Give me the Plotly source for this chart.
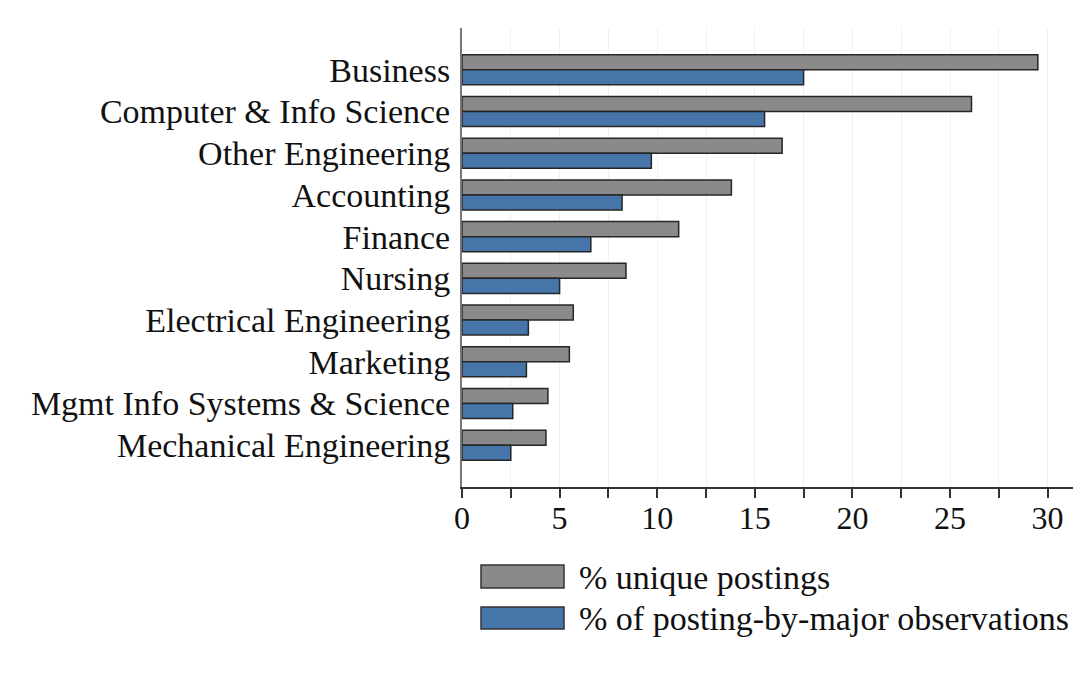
import plotly.graph_objects as go

categories = ["Business", "Computer & Info Science", "Other Engineering", "Accounting",
              "Finance", "Nursing", "Electrical Engineering", "Marketing",
              "Mgmt Info Systems & Science", "Mechanical Engineering"]
unique_postings = [29.5, 26.1, 16.4, 13.8, 11.1, 8.4, 5.7, 5.5, 4.4, 4.3]
posting_by_major = [17.5, 15.5, 9.7, 8.2, 6.6, 5.0, 3.4, 3.3, 2.6, 2.5]
series_names = ["% unique postings", "% of posting-by-major observations"]
x_tickvals = [0, 5, 10, 15, 20, 25, 30]

GRAY = "#8a8a8a"
BLUE = "#4575a9"
EDGE = "#262626"
FONT = "Liberation Serif, Times New Roman, serif"

OFF = 8  # page body margin
W, H = 1090 - 2 * OFF, 675 - 2 * OFF
# target pixel positions in the page, converted to figure coordinates
L = 462 - OFF
T = 28 - OFF
R = W - (1073 - OFF)
B = H - (487 - OFF)
pw, ph = W - L - R, H - T - B

def px_x(px):
    return (px - OFF - L) / pw

def px_y(py):
    return (H - B - (py - OFF)) / ph

fig = go.Figure()
fig.add_trace(go.Bar(y=categories, x=unique_postings, orientation="h", name=series_names[0],
                     marker=dict(color=GRAY, line=dict(color=EDGE, width=1.5)), showlegend=False))
fig.add_trace(go.Bar(y=categories, x=posting_by_major, orientation="h", name=series_names[1],
                     marker=dict(color=BLUE, line=dict(color=EDGE, width=1.5)), showlegend=False))

# manual legend
legend_rows = [(GRAY, 565, 588), (BLUE, 607, 629)]
for (col, y0, y1), name in zip(legend_rows, series_names):
    fig.add_shape(type="rect", xref="paper", yref="paper",
                  x0=px_x(481), x1=px_x(564), y0=px_y(y1), y1=px_y(y0),
                  fillcolor=col, line=dict(color="#333333", width=1.5))
    fig.add_annotation(xref="paper", yref="paper", x=px_x(577), y=px_y((y0 + y1) / 2 + 1),
                       text=name, showarrow=False, xanchor="left", yanchor="middle",
                       font=dict(family=FONT, size=34, color="#111111"))

# faint outer frame
fig.add_shape(type="rect", xref="paper", yref="paper",
              x0=px_x(5), x1=px_x(1085), y0=px_y(668), y1=px_y(4),
              line=dict(color="#eeeeee", width=1), fillcolor="rgba(0,0,0,0)", layer="below")

fig.update_layout(
    width=W, height=H,
    margin=dict(l=L, r=R, t=T, b=B),
    barmode="group", bargap=0.28, bargroupgap=0,
    plot_bgcolor="white", paper_bgcolor="white",
    font=dict(family=FONT, size=34, color="#111111"),
    xaxis=dict(range=[0, 31.3], tickvals=x_tickvals, ticks="outside", ticklen=9,
               tickwidth=1.5, tickcolor="#333333",
               showgrid=True, gridcolor="#f0f0f0", gridwidth=1,
               minor=dict(dtick=2.5, ticks="outside", ticklen=9, tickwidth=1.5,
                          tickcolor="#333333", showgrid=True, gridcolor="#f0f0f0"),
               showline=True, linecolor="#333333", linewidth=1.5,
               zeroline=False, tickfont=dict(size=32), ticklabelstandoff=-7),
    yaxis=dict(categoryorder="array", categoryarray=categories,
               range=[len(categories), -1], showgrid=False, zeroline=False,
               showline=True, linecolor="#777777", linewidth=2,
               ticks="", ticklabelstandoff=3, tickfont=dict(size=34)),
)

fig.write_html("out.html")
